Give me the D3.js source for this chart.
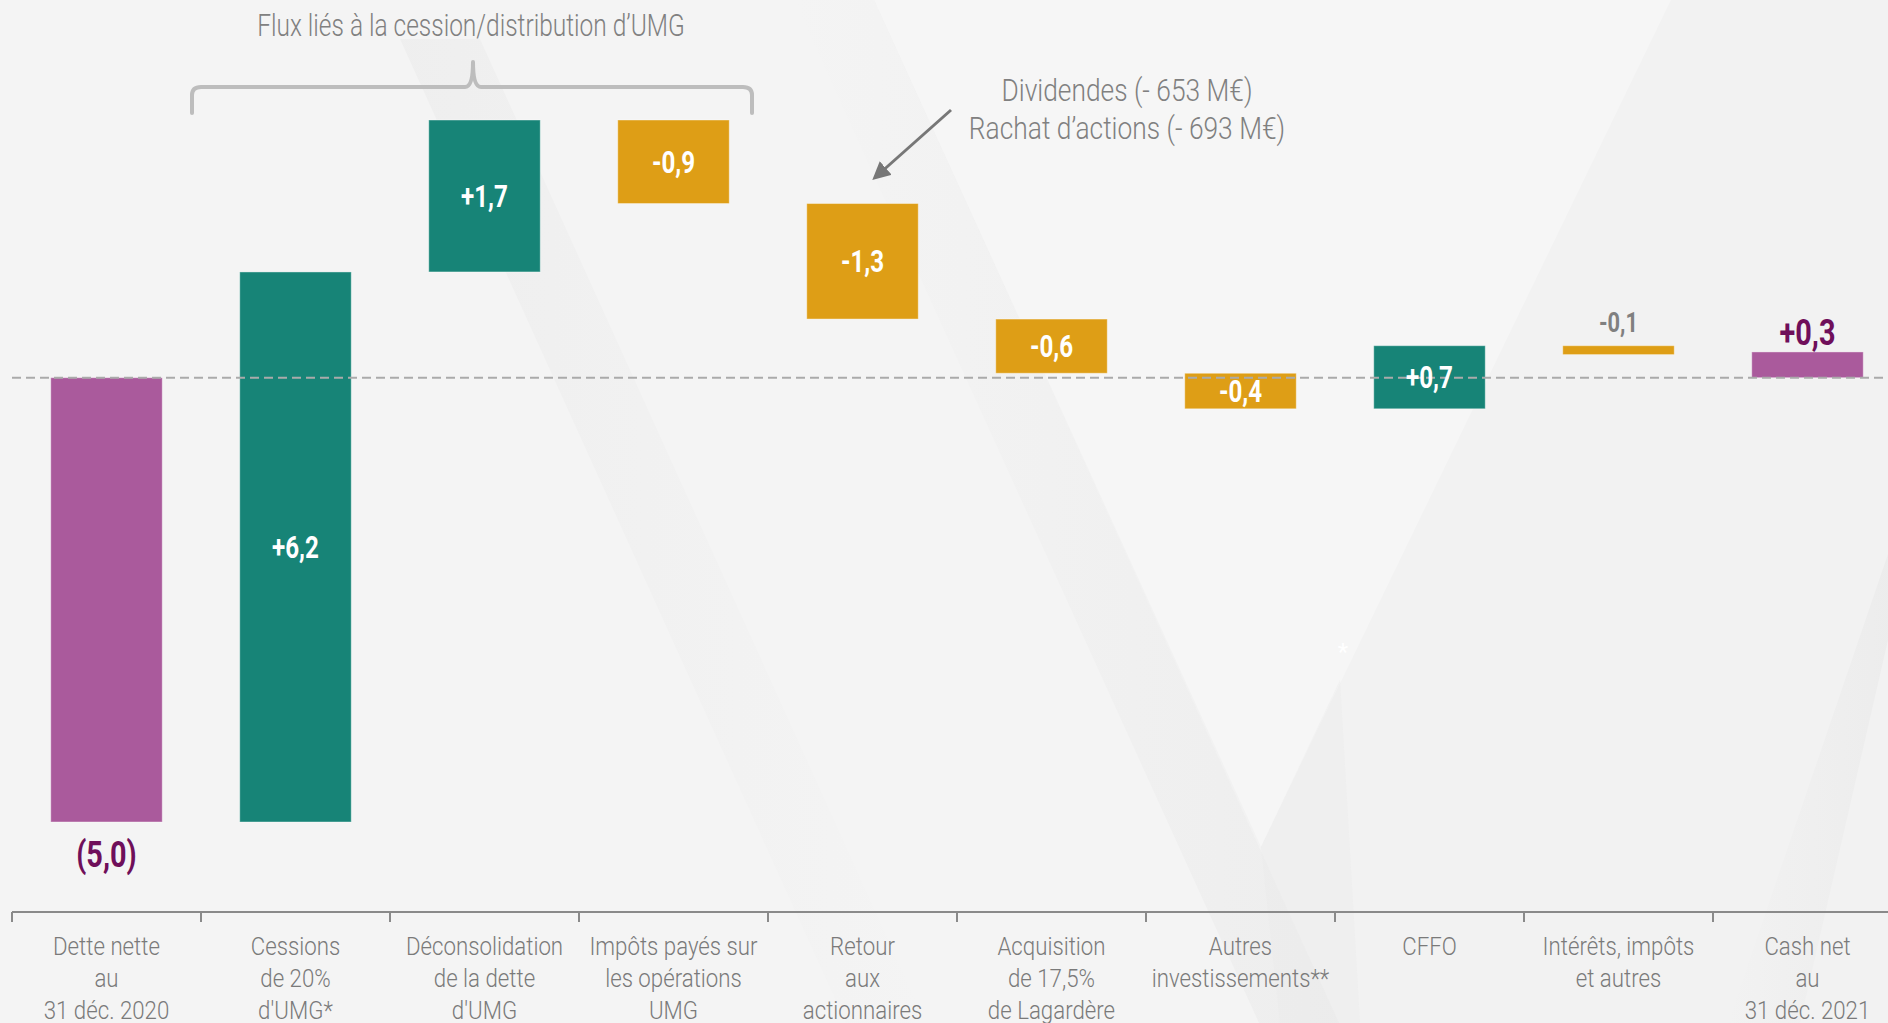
<!DOCTYPE html>
<html>
<head>
<meta charset="utf-8">
<script src="https://cdn.jsdelivr.net/npm/d3@7"></script>
<style>
  body { margin: 0; background: #f3f3f3; }
  svg { display: block; font-family: "Roboto", "Liberation Sans", sans-serif; }
</style>
</head>
<body>
<div id="chart"></div>
<script>
// categories (multi-line tick labels)
const categories = [
  ["Dette nette", "au", "31 déc. 2020"],
  ["Cessions", "de 20%", "d'UMG*"],
  ["Déconsolidation", "de la dette", "d'UMG"],
  ["Impôts payés sur", "les opérations", "UMG"],
  ["Retour", "aux", "actionnaires"],
  ["Acquisition", "de 17,5%", "de Lagardère"],
  ["Autres", "investissements**"],
  ["CFFO"],
  ["Intérêts, impôts", "et autres"],
  ["Cash net", "au", "31 déc. 2021"]
];
// values in Md€
const values = [-5.0, 6.19, 1.71, -0.94, -1.3, -0.61, -0.4, 0.71, -0.1, 0.29];
const kinds = ["total", "delta", "delta", "delta", "delta", "delta", "delta", "delta", "delta", "total"];
const valueLabels = ["(5,0)", "+6,2", "+1,7", "-0,9", "-1,3", "-0,6", "-0,4", "+0,7", "-0,1", "+0,3"];

const groupTitle = "Flux liés à la cession/distribution d’UMG";
const noteLines = ["Dividendes (- 653 M€)", "Rachat d’actions (- 693 M€)"];

const W = 1888, H = 1023;
const colors = { total: "#aa5a9c", up: "#178477", down: "#de9e16" };

const svg = d3.select("#chart").append("svg")
  .attr("width", W).attr("height", H);

// squeeze text horizontally around its x so it looks like a condensed face
function condense(sel, s) {
  sel.attr("transform", function() {
    const x = +this.getAttribute("x");
    return `translate(${x * (1 - s)},0) scale(${s},1)`;
  });
}

// background
const defs = svg.append("defs");
const g1 = defs.append("linearGradient").attr("id", "shadeL").attr("x1", 0).attr("x2", 1).attr("y1", 0).attr("y2", 0);
g1.append("stop").attr("offset", 0).attr("stop-color", "#e4e4e4").attr("stop-opacity", 0.0);
g1.append("stop").attr("offset", 1).attr("stop-color", "#e4e4e4").attr("stop-opacity", 0.4);
const g2 = defs.append("linearGradient").attr("id", "shadeR").attr("x1", 0).attr("x2", 1).attr("y1", 0).attr("y2", 0);
g2.append("stop").attr("offset", 0).attr("stop-color", "#e6e6e6").attr("stop-opacity", 0.4);
g2.append("stop").attr("offset", 1).attr("stop-color", "#e6e6e6").attr("stop-opacity", 0.0);

svg.append("rect").attr("width", W).attr("height", H).attr("fill", "#f2f2f2");
const bg = svg.append("g");
bg.append("polygon").attr("points", "874,0 1671,0 1261,847").attr("fill", "#ffffff").attr("opacity", 0.3);
bg.append("polygon").attr("points", "0,0 874,0 1339,1023 0,1023").attr("fill", "#f5f5f5").attr("opacity", 0.6);
bg.append("polygon").attr("points", "400,39 480,39 926,1023 846,1023").attr("fill", "url(#shadeR)");
bg.append("polygon").attr("points", "794,0 874,0 1339,1023 1259,1023").attr("fill", "url(#shadeL)");
bg.append("polygon").attr("points", "1261,847 1340,680 1360,1023 1280,1023").attr("fill", "#e8e8e8").attr("opacity", 0.3);
bg.append("polygon").attr("points", "1888,554 1888,640 1800,1023 1728,1023").attr("fill", "url(#shadeL)");

// compute waterfall segments
let run = 0;
const bars = values.map((v, i) => {
  let y0, y1;
  if (kinds[i] === "total") { y0 = 0; y1 = v; run = v; }
  else { y0 = run; y1 = run + v; run = y1; }
  return { i, v, y0, y1, kind: kinds[i], label: valueLabels[i] };
});

const x = d3.scaleBand()
  .domain(d3.range(categories.length))
  .range([12, 1902])
  .paddingInner(0.41)
  .paddingOuter(0.205);

const y = d3.scaleLinear().domain([-5, 2.9]).range([822, 120]);

const fillOf = d => d.kind === "total" ? colors.total : (d.v >= 0 ? colors.up : colors.down);

svg.append("g").selectAll("rect")
  .data(bars)
  .join("rect")
  .attr("x", d => x(d.i))
  .attr("width", x.bandwidth())
  .attr("y", d => y(Math.max(d.y0, d.y1)))
  .attr("height", d => Math.abs(y(d.y0) - y(d.y1)))
  .attr("fill", fillOf)
  .attr("stroke", "#ffffff").attr("stroke-opacity", 0.4).attr("stroke-width", 1);

// zero line (dashed, over the bars)
svg.append("line")
  .attr("x1", 12).attr("x2", W)
  .attr("y1", y(0)).attr("y2", y(0))
  .attr("stroke", "#aaaaaa").attr("stroke-width", 2)
  .attr("stroke-dasharray", "9,5");

// value labels
const vl = svg.append("g").selectAll("text")
  .data(bars)
  .join("text")
  .attr("text-anchor", "middle")
  .attr("x", d => x(d.i) + x.bandwidth() / 2)
  .attr("y", d => {
    const top = y(Math.max(d.y0, d.y1)), bot = y(Math.min(d.y0, d.y1));
    if (d.i === 0) return bot + 45;
    if (d.kind === "total") return top - 7;
    if (bot - top < 20) return top - 14;
    return (top + bot) / 2 + 11;
  })
  .attr("font-size", d => d.kind === "total" ? 37 : (d.i === 8 ? 28 : 31))
  .attr("font-weight", "bold")
  .attr("fill", d => {
    const h = Math.abs(y(d.y0) - y(d.y1));
    if (d.kind === "total") return "#6f0f5a";
    if (h < 20) return "#808080";
    return "#ffffff";
  })
  .text(d => d.label);
condense(vl, 0.78);

// x axis
const axisY = 912;
const axis = svg.append("g").attr("transform", `translate(0,${axisY})`);
axis.append("line").attr("x1", 12).attr("x2", W).attr("stroke", "#8a8a8a").attr("stroke-width", 2);
axis.selectAll("line.tick")
  .data(d3.range(categories.length))
  .join("line").attr("class", "tick")
  .attr("x1", i => x(i) - x.step() * x.paddingInner() / 2)
  .attr("x2", i => x(i) - x.step() * x.paddingInner() / 2)
  .attr("y1", 0).attr("y2", 10)
  .attr("stroke", "#8a8a8a").attr("stroke-width", 2);

const lbl = axis.selectAll("text.cat")
  .data(categories)
  .join("text").attr("class", "cat")
  .attr("text-anchor", "middle")
  .attr("font-size", 26.5)
  .attr("font-weight", 300)
  .attr("fill", "#7a7a7a")
  .attr("x", (d, i) => x(i) + x.bandwidth() / 2);
lbl.selectAll("tspan")
  .data(d => d)
  .join("tspan")
  .attr("x", function() { return this.parentNode.getAttribute("x"); })
  .attr("y", (d, j) => 43 + j * 32)
  .text(d => d);
condense(lbl, 0.84);

// group brace
const braceL = 192, braceR = 752, braceMid = 473;
svg.append("path")
  .attr("d", `M${braceL},113 L${braceL},95 Q${braceL},87 ${braceL + 9},87 L${braceMid - 8},87 Q${braceMid},87 ${braceMid},62 Q${braceMid},87 ${braceMid + 8},87 L${braceR - 9},87 Q${braceR},87 ${braceR},95 L${braceR},113`)
  .attr("fill", "none").attr("stroke", "#bdbdbd").attr("stroke-width", 4)
  .attr("stroke-linecap", "round").attr("stroke-linejoin", "round");

const title = svg.append("text")
  .attr("x", 471).attr("y", 36)
  .attr("text-anchor", "middle")
  .attr("font-size", 31).attr("font-weight", 300).attr("fill", "#808080")
  .text(groupTitle);
condense(title, 0.79);

// annotation
defs.append("marker")
  .attr("id", "arrow").attr("viewBox", "0 0 10 10")
  .attr("refX", 5).attr("refY", 5)
  .attr("markerWidth", 6).attr("markerHeight", 6)
  .attr("markerUnits", "strokeWidth")
  .attr("orient", "auto")
  .append("path").attr("d", "M0,0 L10,5 L0,10 z").attr("fill", "#777777");

svg.append("line")
  .attr("x1", 951).attr("y1", 110)
  .attr("x2", 879).attr("y2", 174)
  .attr("stroke", "#777777").attr("stroke-width", 3)
  .attr("marker-end", "url(#arrow)");

const note = svg.append("text")
  .attr("x", 1127).attr("text-anchor", "middle")
  .attr("font-size", 31).attr("font-weight", 300).attr("fill", "#808080");
note.selectAll("tspan")
  .data(noteLines)
  .join("tspan")
  .attr("x", 1127)
  .attr("y", (d, j) => 101 + j * 38)
  .text(d => d);
condense(note, 0.85);

// stray footnote mark in background
svg.append("text")
  .attr("x", 1343).attr("y", 660)
  .attr("text-anchor", "middle")
  .attr("font-size", 24).attr("fill", "#ffffff")
  .text("*");
</script>
</body>
</html>
